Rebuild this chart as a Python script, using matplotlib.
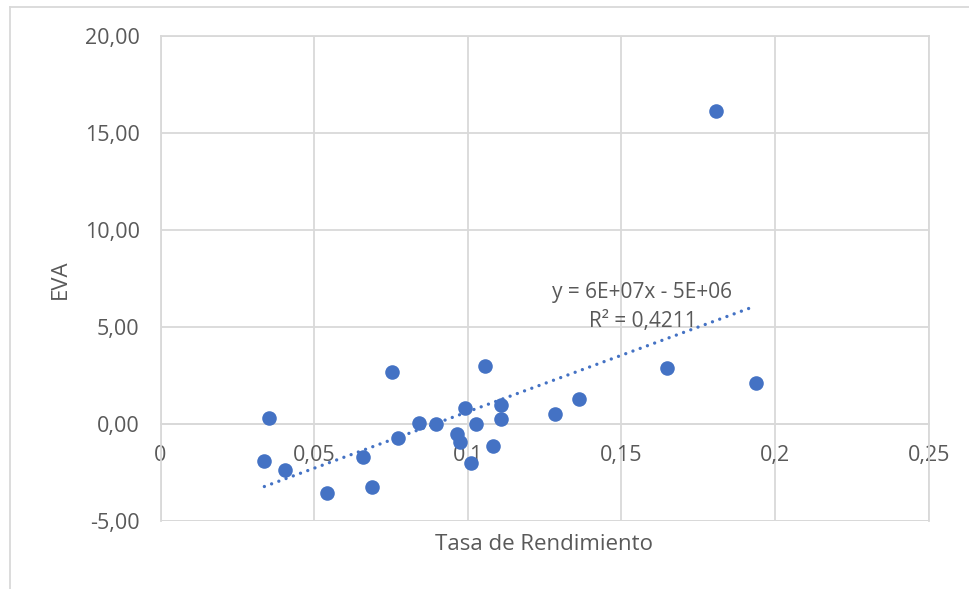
import numpy as np
import matplotlib.pyplot as plt
from matplotlib.lines import Line2D

plt.rcParams['font.family'] = ['Open Sans', 'DejaVu Sans']

# Tasa de rendimiento vs EVA (millones)
tasa = [0.0338, 0.0353, 0.0406, 0.0542, 0.0658, 0.0689, 0.0753, 0.0774,
        0.0842, 0.0896, 0.0965, 0.0975, 0.0990, 0.1009, 0.1026, 0.1057,
        0.1083, 0.1108, 0.1108, 0.1284, 0.1362, 0.1648, 0.1809, 0.1937]
eva = [-1.90, 0.34, -2.38, -3.55, -1.71, -3.21, 2.67, -0.71,
       0.08, 0.00, -0.52, -0.90, 0.83, -1.99, 0.00, 3.00,
       -1.11, 1.01, 0.27, 0.52, 1.29, 2.90, 16.16, 2.10]

x_ticks = [0, 0.05, 0.1, 0.15, 0.2, 0.25]
x_labels = ['0', '0,05', '0,1', '0,15', '0,2', '0,25']
y_ticks = [-5, 0, 5, 10, 15, 20]
y_labels = ['-5,00', '0,00', '5,00', '10,00', '15,00', '20,00']

text_color = '#595959'
grid_color = '#d9d9d9'
blue = '#4472C4'

fig = plt.figure(figsize=(9.69, 5.89), dpi=100)
ax = fig.add_axes([160.5 / 969, 1 - 521.3 / 589, (928.7 - 160.5) / 969, (521.3 - 36) / 589])

ax.scatter(tasa, eva, s=110, color=blue, zorder=3, linewidths=0)

# linear trendline over the data range
coef = np.polyfit(tasa, eva, 1)
xs = np.array([min(tasa), max(tasa)])
ax.plot(xs, np.polyval(coef, xs), color=blue, linewidth=2.4,
        dashes=(0.01, 2.3), dash_capstyle='round', zorder=2)

ax.text(0.1567, 6.77, 'y = 6E+07x - 5E+06', fontsize=15, color=text_color,
        ha='center', va='center')
ax.text(0.1570, 5.28, 'R² = 0,4211', fontsize=15, color=text_color,
        ha='center', va='center')

ax.set_xlim(0, 0.25)
ax.set_ylim(-5, 20)
ax.set_xticks(x_ticks)
ax.set_xticklabels(x_labels)
ax.set_yticks(y_ticks)
ax.set_yticklabels(y_labels)
ax.grid(True, color=grid_color, linewidth=1.3, zorder=0)
ax.set_axisbelow(True)

for side in ['top', 'right', 'left']:
    ax.spines[side].set_color(grid_color)
    ax.spines[side].set_linewidth(1.3)
ax.spines['bottom'].set_position(('data', 0))
ax.spines['bottom'].set_color(grid_color)
ax.spines['bottom'].set_linewidth(1.3)

ax.tick_params(axis='x', length=0, pad=15, labelsize=15.5, labelcolor=text_color)
ax.tick_params(axis='y', length=0, pad=15, labelsize=15.5, labelcolor=text_color)

# lower edge of the plot area
ax.axhline(-5, color=grid_color, linewidth=1.3, zorder=0)

fig.text(544 / 969, 1 - 544 / 589, 'Tasa de Rendimiento', fontsize=16,
         color=text_color, ha='center', va='center')
fig.text(60 / 969, 1 - 279 / 589, 'EVA', fontsize=16, color=text_color,
         ha='center', va='center', rotation=90)

# chart area frame
fig.add_artist(Line2D([9.5 / 969, 9.5 / 969], [0, 1 - 7 / 589],
                      transform=fig.transFigure, color=grid_color, linewidth=1.3))
fig.add_artist(Line2D([9.5 / 969, 1], [1 - 7 / 589, 1 - 7 / 589],
                      transform=fig.transFigure, color=grid_color, linewidth=1.3))

fig.savefig('out.png', dpi=100)
